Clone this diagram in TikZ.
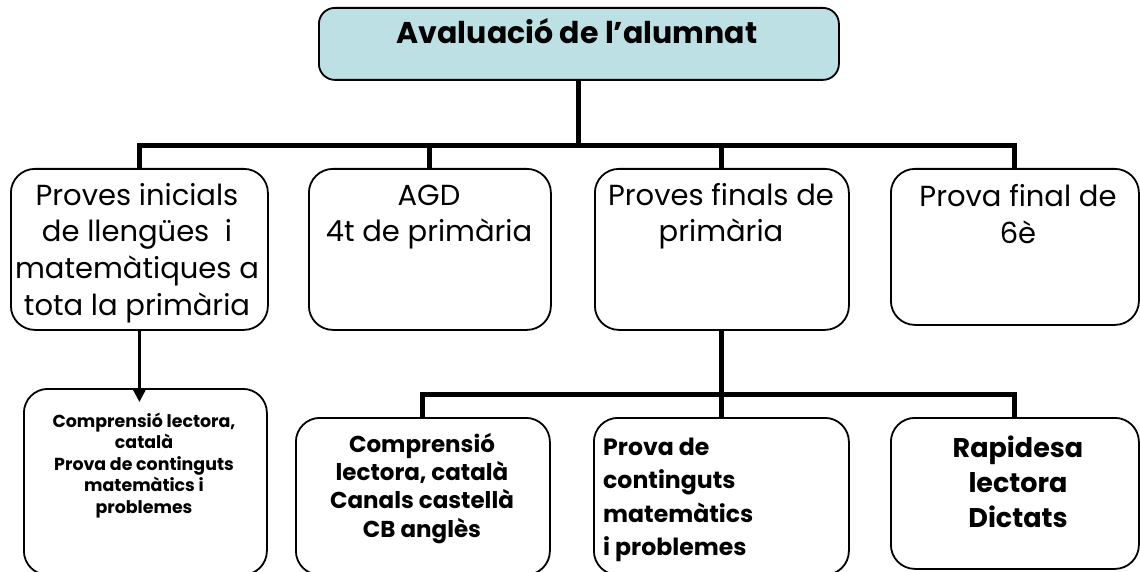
\documentclass[tikz,border=0pt]{standalone}
\usepackage{fontspec}
\setmainfont{Poppins}
\usetikzlibrary{arrows.meta}
\definecolor{titlefill}{RGB}{188,224,227}
\newcommand{\ml}[2][c]{\begin{tabular}[t]{@{}#1@{}}#2\end{tabular}}
\newcommand{\fT}{\bfseries\fontsize{30}{36}\selectfont}
\newcommand{\fA}{\fontsize{29}{36.7}\selectfont}
\newcommand{\fS}{\bfseries\fontsize{17.4}{21.6}\selectfont}
\newcommand{\fM}{\bfseries\fontsize{23}{28.4}\selectfont}
\newcommand{\fL}{\bfseries\fontsize{23.6}{33.5}\selectfont}
\newcommand{\fR}{\bfseries\fontsize{27}{35}\selectfont}
\tikzset{
  box/.style={draw=black, line width=1.8pt, rounded corners=24pt, inner sep=0pt, anchor=north west},
  conn/.style={line width=5pt},
  thinconn/.style={line width=2.2pt},
  txt/.style={inner sep=0pt, anchor=base},
}
\begin{document}
\begin{tikzpicture}[x=1pt,y=-1pt]
\useasboundingbox (0,0) rectangle (1140,572);
\clip (0,0) rectangle (1140,572);
% boxes
\node[box, fill=titlefill, rounded corners=16pt, minimum width=520pt, minimum height=72pt] (top) at (318,7) {};
\node[box, minimum width=257pt, minimum height=161pt] (b1) at (10,168) {};
\node[box, minimum width=242pt, minimum height=161pt] (b2) at (308,168) {};
\node[box, minimum width=254pt, minimum height=161pt] (b3) at (594,168) {};
\node[box, minimum width=248pt, minimum height=156pt] (b4) at (890,168) {};
\node[box, minimum width=243pt, minimum height=186pt] (b5) at (23,388) {};
\node[box, minimum width=254pt, minimum height=157pt] (b6) at (295,417) {};
\node[box, minimum width=255pt, minimum height=157pt] (b7) at (593,417) {};
\node[box, minimum width=248pt, minimum height=151pt] (b8) at (890,417) {};
% connectors, first level
\draw[conn] (top.south) -- ++(0,65) coordinate (hub);
\draw[conn] (b1.north) -- (b1.north |- hub) -- (b4.north |- hub) -- (b4.north);
\draw[conn] (b2.north) -- (b2.north |- hub);
\draw[conn] (b3.north) -- (b3.north |- hub);
% connectors, second level
\draw[conn] (b3.south) -- ++(0,64) coordinate (hub2);
\draw[conn] (b6.north) -- (b6.north |- hub2) -- (b8.north |- hub2) -- (b8.north);
\draw[conn] (b7.north) -- (b7.north |- hub2);
\coordinate (a5) at (137,402);
\draw[thinconn, -{Triangle[length=12pt,width=12pt]}] (b1.south) -- (b1.south |- a5);
% texts
\node[txt, font=\fT] (tt) at (577,44) {Avaluació de l’alumnat};
\node[txt, font=\fA] (t1) at (137,205) {\ml{Proves inicials\\de llengües\ \ i\\matemàtiques a\\tota la primària}};
\node[txt, font=\fA] (t2) at (429,205) {\ml{AGD\\4t de primària}};
\node[txt, font=\fA] (t3) at (721,205) {\ml{Proves finals de\\primària}};
\node[txt, font=\fA] (t4) at (1018,207) {\ml{Prova final de\\6è}};
\node[txt, font=\fS] (t5) at (144,427) {\ml{Comprensió lectora,\\català\\Prova de continguts\\matemàtics i\\problemes}};
\node[txt, font=\fM] (t6) at (422,452) {\ml{Comprensió\\lectora, català\\Canals castellà\\CB anglès}};
\node[txt, font=\fL, anchor=base west] (t7) at (603,455) {\ml[l]{Prova de\\continguts\\matemàtics\\i problemes}};
\node[txt, font=\fR] (t8) at (1018,457) {\ml{Rapidesa\\lectora\\Dictats}};
\end{tikzpicture}
\end{document}
